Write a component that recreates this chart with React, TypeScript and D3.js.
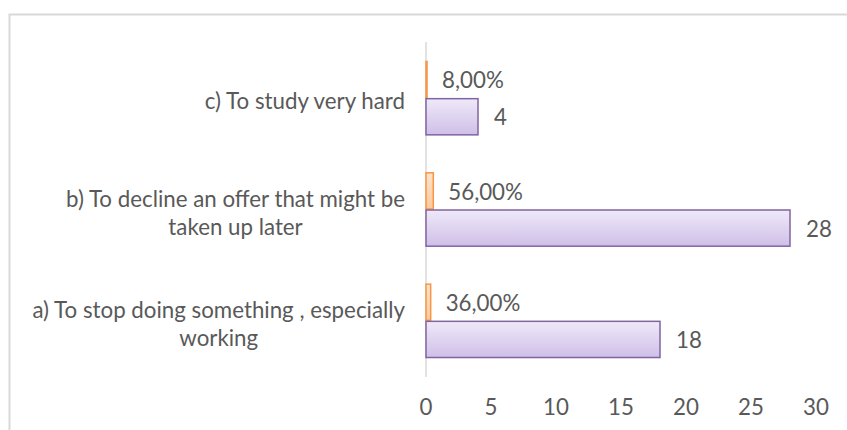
import React, { useEffect, useRef } from "react";
import * as d3 from "d3";

// data (bottom to top order as in source)
const categories = [
    "a) To stop doing something , especially working",
    "b) To decline an offer that might be taken up later",
    "c) To study very hard",
];
const counts = [18, 28, 4];
const shares = [0.36, 0.56, 0.08];
const xTicks = [0, 5, 10, 15, 20, 25, 30];

const W = 847,
    H = 430;
const FONT = "Lato, 'Open Sans', sans-serif";
const FS = "22.3px";
const TXT = "#595959";

const App = () => {
    const ref = useRef<SVGSVGElement>(null);

    useEffect(() => {
        const svg = d3.select(ref.current);
        svg.selectAll("*").remove();

        const x = d3.scaleLinear().domain([0, 30]).range([426, 816]);
        const y = d3
            .scaleBand<string>()
            .domain([...categories].reverse())
            .range([42, 376]);
        const bw = y.bandwidth();
        const barH = bw * 0.325;

        const defs = svg.append("defs");
        const gp = defs.append("linearGradient").attr("id", "gPurple").attr("x1", 0).attr("y1", 0).attr("x2", 0).attr("y2", 1);
        gp.append("stop").attr("offset", "0%").attr("stop-color", "#efe9f8");
        gp.append("stop").attr("offset", "100%").attr("stop-color", "#cfbfe8");
        const go = defs.append("linearGradient").attr("id", "gOrange").attr("x1", 0).attr("y1", 0).attr("x2", 0).attr("y2", 1);
        go.append("stop").attr("offset", "0%").attr("stop-color", "#fde3cc");
        go.append("stop").attr("offset", "100%").attr("stop-color", "#fbc99c");

        // chart frame (cropped on the right and bottom)
        svg.append("rect")
            .attr("x", 9.5).attr("y", 14.5)
            .attr("width", 900).attr("height", 500)
            .attr("fill", "#fff")
            .attr("stroke", "#d9d9d9")
            .attr("stroke-width", 2);

        // vertical axis line
        svg.append("line")
            .attr("x1", x(0)).attr("x2", x(0))
            .attr("y1", 42).attr("y2", 377)
            .attr("stroke", "#d9d9d9")
            .attr("stroke-width", 1.5);

        const rows = categories.map((c, i) => ({ cat: c, count: counts[i], share: shares[i] }));

        // percent bars (orange)
        svg.selectAll(".pbar")
            .data(rows)
            .enter()
            .append("rect")
            .attr("x", x(0))
            .attr("y", (d) => y(d.cat)! + bw / 2 - barH)
            .attr("width", (d) => Math.max(0.5, x(d.share) - x(0)))
            .attr("height", barH)
            .attr("fill", "url(#gOrange)")
            .attr("stroke", "#f79646")
            .attr("stroke-width", 1.5);

        // count bars (purple)
        svg.selectAll(".cbar")
            .data(rows)
            .enter()
            .append("rect")
            .attr("x", x(0))
            .attr("y", (d) => y(d.cat)! + bw / 2 + 1)
            .attr("width", (d) => x(d.count) - x(0))
            .attr("height", barH)
            .attr("fill", "url(#gPurple)")
            .attr("stroke", "#8064a2")
            .attr("stroke-width", 1.5);

        const fmtPct = (v: number) => (v * 100).toFixed(2).replace(".", ",") + "%";

        svg.selectAll(".plab")
            .data(rows)
            .enter()
            .append("text")
            .attr("x", (d) => x(d.share) + 15)
            .attr("y", (d) => y(d.cat)! + bw / 2 - barH / 2 + 3)
            .attr("dominant-baseline", "middle")
            .style("font-family", FONT)
            .style("font-size", FS)
            .style("fill", TXT)
            .text((d) => fmtPct(d.share));

        svg.selectAll(".clab")
            .data(rows)
            .enter()
            .append("text")
            .attr("x", (d) => x(d.count) + 16)
            .attr("y", (d) => y(d.cat)! + bw / 2 + barH / 2 + 4)
            .attr("dominant-baseline", "middle")
            .style("font-family", FONT)
            .style("font-size", FS)
            .style("fill", TXT)
            .text((d) => d.count);

        // x tick labels
        svg.selectAll(".tick")
            .data(xTicks)
            .enter()
            .append("text")
            .attr("x", (d) => x(d))
            .attr("y", 409)
            .attr("text-anchor", "middle")
            .attr("dominant-baseline", "middle")
            .style("font-family", FONT)
            .style("font-size", FS)
            .style("fill", TXT)
            .text((d) => d);

        // category labels, wrapped and centred per line, block right-aligned to axis
        const maxW = 388;
        const lineH = 28;
        categories.forEach((c) => {
            const g = svg.append("g");
            const probe = g.append("text")
                .style("font-family", FONT)
                .style("font-size", FS);
            const words = c.split(" ");
            const lines: string[] = [];
            let cur = "";
            words.forEach((w) => {
                const t = cur ? cur + " " + w : w;
                probe.text(t);
                if ((probe.node() as SVGTextElement).getComputedTextLength() > maxW && cur) {
                    lines.push(cur);
                    cur = w;
                } else cur = t;
            });
            lines.push(cur);
            const widths = lines.map((l) => {
                probe.text(l);
                return (probe.node() as SVGTextElement).getComputedTextLength();
            });
            probe.remove();
            const blockW = Math.max(...widths);
            const cx = 405 - blockW / 2;
            const cy = y(c)! + bw / 2 + 6;
            lines.forEach((l, k) => {
                g.append("text")
                    .attr("x", cx)
                    .attr("y", cy + (k - (lines.length - 1) / 2) * lineH)
                    .attr("text-anchor", "middle")
                    .attr("dominant-baseline", "middle")
                    .style("font-family", FONT)
                    .style("font-size", FS)
                    .style("fill", TXT)
                    .text(l);
            });
        });
    }, []);

    return (
        <svg
            ref={ref}
            width={W}
            height={H}
            style={{ position: "absolute", left: 0, top: 0, background: "#fff" }}
        />
    );
};

export default App;
